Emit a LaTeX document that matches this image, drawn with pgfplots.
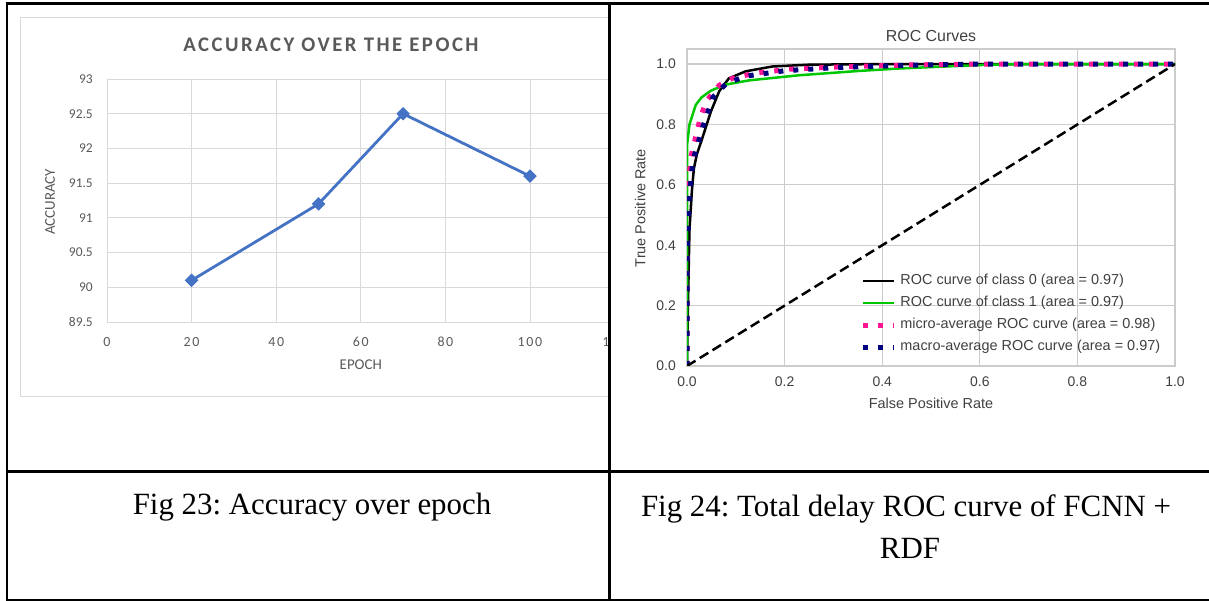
\documentclass[border=0pt]{standalone}
\usepackage{pgfplots}
\pgfplotsset{compat=1.18}
\usepackage{fontspec}
\setmainfont{Liberation Sans}
\newfontfamily\excelfont{Carlito}
\newfontfamily\excelspaced[LetterSpace=12]{Carlito}
\newfontfamily\exceltitle[LetterSpace=12]{Carlito}
\newfontfamily\rocfont{Liberation Sans}
\newfontfamily\capfont{Liberation Serif}
\definecolor{xlgrid}{HTML}{D9D9D9}
\definecolor{xltext}{HTML}{595959}
\definecolor{xlblue}{HTML}{4472C4}
\definecolor{mpgrid}{HTML}{CCCCCC}
\definecolor{mptext}{HTML}{404040}
\definecolor{mpgreen}{rgb}{0.0,0.78,0.0}
\definecolor{deeppink}{HTML}{FF1493}
\definecolor{navyblue}{HTML}{000080}
\pgfplotsset{/pgf/number format/assume math mode=true}
\frenchspacing
\begin{document}
\begin{tikzpicture}[x=1bp,y=1bp]
\useasboundingbox (0,0) rectangle (1209,601);
% ---------------- left chart (Excel style) ----------------
\begin{scope}
\clip (0,0) rectangle (608,601);
\draw[xlgrid, line width=1bp] (20,583) rectangle (680,204);
\node[font=\fontsize{20.8}{24}\exceltitle\bfseries, text=xltext] at (331,556) {ACCURACY OVER THE EPOCH};
\begin{axis}[
  at={(107bp,279bp)}, anchor=south west, scale only axis,
  width=507.6bp, height=243bp,
  xmin=0, xmax=120, ymin=89.5, ymax=93,
  xtick={0,20,40,60,80,100,120}, ytick={89.5,90,90.5,91,91.5,92,92.5,93},
  yticklabels={89.5,90,90.5,91,91.5,92,92.5,93},
  grid=major, grid style={xlgrid, line width=0.9bp},
  axis line style={draw=none}, major tick length=0pt,
  yticklabel style={font=\fontsize{13.5}{15}\excelfont, text=xltext, anchor=east, inner sep=0pt, xshift=-14bp},
  xticklabel style={font=\fontsize{14}{16}\excelspaced, text=xltext, anchor=center, inner sep=0pt, yshift=-20bp},
  xlabel={EPOCH}, ylabel={ACCURACY},
  xlabel style={at={(axis description cs:0.5,-0.177)}, anchor=center, font=\fontsize{15}{17}\excelfont, text=xltext},
  ylabel style={at={(axis description cs:-0.112,0.494)}, anchor=center, font=\fontsize{15}{17}\excelfont, text=xltext},
]
\addplot[xlblue, line width=2.8bp, mark=square*, mark size=3.4bp, mark options={rotate=45, solid, fill=xlblue}]
  coordinates {(20,90.1) (50,91.2) (70,92.5) (100,91.6)};
\end{axis}
\end{scope}
% ---------------- right chart (matplotlib style) ----------------
\begin{axis}[
  at={(687bp,235bp)}, anchor=south west, scale only axis,
  width=488bp, height=317bp,
  xmin=0, xmax=1, ymin=0, ymax=1.05,
  xtick={0,0.2,0.4,0.6,0.8,1}, ytick={0,0.2,0.4,0.6,0.8,1},
  xticklabels={0.0,0.2,0.4,0.6,0.8,1.0}, yticklabels={0.0,0.2,0.4,0.6,0.8,1.0},
  grid=major, grid style={mpgrid, line width=1.3bp},
  axis line style={mpgrid, line width=1.3bp}, major tick length=0pt,
  yticklabel style={font=\fontsize{14}{16}\rocfont, text=mptext, anchor=east, inner sep=0pt, xshift=-11bp},
  xticklabel style={font=\fontsize{14}{16}\rocfont, text=mptext, anchor=center, inner sep=0pt, yshift=-16bp},
  title={ROC Curves},
  title style={at={(axis description cs:0.5,1.022)}, anchor=center, font=\fontsize{16}{18}\rocfont, text=mptext},
  xlabel={False Positive Rate}, ylabel={True Positive Rate},
  xlabel style={at={(axis description cs:0.5,-0.117)}, anchor=center, font=\fontsize{14.5}{16}\rocfont, text=mptext},
  ylabel style={at={(axis description cs:-0.096,0.498)}, anchor=center, font=\fontsize{14.5}{16}\rocfont, text=mptext},
  legend cell align=left,
  legend style={at={(axis description cs:0.355,0.303)}, anchor=north west, draw=none, fill=none,
    inner sep=0pt, row sep=0pt, column sep=4bp, font=\fontsize{14.5}{16}\rocfont,
    nodes={inner sep=0pt, text height=14bp, text depth=8bp, text=mptext}},
  legend image code/.code={\draw[#1, line cap=butt] (0bp,0bp) -- (31bp,0bp);},
]
\addplot[black, line width=2.5bp] coordinates {
 (0,0) (0.002,0.2) (0.005,0.45) (0.010,0.58) (0.014,0.653) (0.02,0.70) (0.031,0.753)
 (0.049,0.843) (0.066,0.91) (0.086,0.953) (0.12,0.976) (0.175,0.992) (0.25,0.998) (0.4,1.0) (1,1)};
\addlegendentry{ROC curve of class 0 (area = 0.97)}
\addplot[mpgreen, line width=2.5bp] coordinates {
 (0,0) (0,0.73) (0.005,0.80) (0.018,0.865) (0.03,0.89) (0.049,0.912) (0.079,0.932)
 (0.127,0.946) (0.23,0.963) (0.35,0.977) (0.43,0.985) (0.5,0.99) (0.62,0.998) (0.7,1.0) (1,1)};
\addlegendentry{ROC curve of class 1 (area = 0.97)}
\addplot[deeppink, line width=5bp, dash pattern=on 5bp off 10bp] coordinates {
 (0,0) (0,0.45) (0.003,0.6) (0.008,0.693) (0.028,0.827) (0.041,0.88) (0.066,0.93)
 (0.093,0.953) (0.14,0.97) (0.21,0.983) (0.3,0.99) (0.45,0.997) (0.6,1) (1,1)};
\addlegendentry{micro-average ROC curve (area = 0.98)}
\addplot[navyblue, line width=5bp, dash pattern=on 5bp off 10bp] coordinates {
 (0,0) (0,0.35) (0.004,0.55) (0.012,0.68) (0.032,0.79) (0.053,0.89) (0.08,0.935)
 (0.12,0.96) (0.2,0.978) (0.3,0.988) (0.45,0.996) (0.6,1) (1,1)};
\addlegendentry{macro-average ROC curve (area = 0.97)}
\addplot[black, line width=2.5bp, dash pattern=on 10bp off 5bp, forget plot] coordinates {(0,0) (1,1)};
\end{axis}
% ---------------- captions ----------------
\node[anchor=base, font=\fontsize{31}{36}\capfont] at (312,86) {Fig 23: Accuracy over epoch};
\node[anchor=base, font=\fontsize{31}{36}\capfont] at (906,84.3) {Fig 24: Total delay ROC curve of FCNN +};
\node[anchor=base, font=\fontsize{31}{36}\capfont] at (910,42) {RDF};
% ---------------- table rules ----------------
\draw[line width=3bp] (5.5,597.5) -- (1209,597.5);
\draw[line width=2.5bp] (7,599) -- (7,0.5);
\draw[line width=3bp] (609.5,599) -- (609.5,0.5);
\draw[line width=3.5bp] (5.5,129.5) -- (1209,129.5);
\draw[line width=1.5bp] (5.5,1.2) -- (1209,1.2);
\end{tikzpicture}
\end{document}
